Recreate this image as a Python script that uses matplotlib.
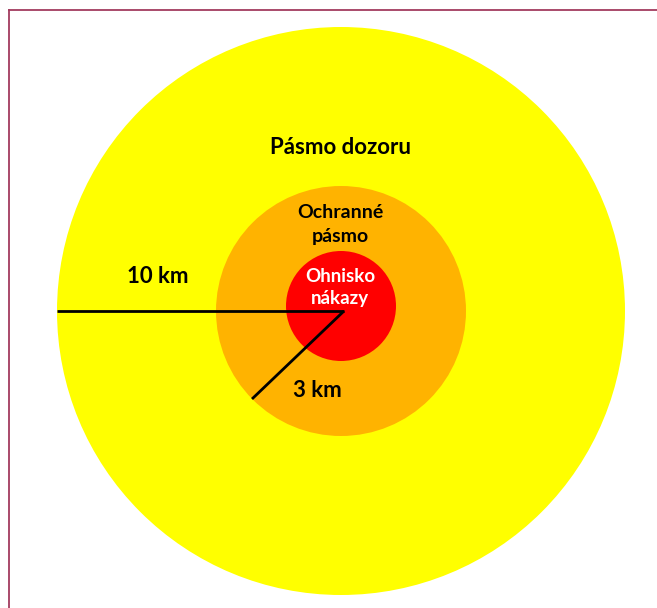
import matplotlib.pyplot as plt
from matplotlib.patches import Circle

plt.rcParams['font.family'] = ['Lato', 'DejaVu Sans']

# zones, drawn from outside in (pixel units of the picture)
zone_names = ["Pásmo dozoru", "Ochranné pásmo", "Ohnisko nákazy"]
zone_radius = [284, 125, 55]
zone_center = [(341, 311), (341, 311), (341, 306)]
zone_colors = ["#FFFF00", "#FFB300", "#FF0000"]

# radius markers: end point and label
radius_labels = ["10 km", "3 km"]
radius_ends = [(57, 311), (252, 399)]
hub = (344, 311)

fig = plt.figure(figsize=(6.57, 6.08), dpi=100)
ax = fig.add_axes([0, 0, 1, 1])
ax.set_xlim(0, 657)
ax.set_ylim(608, 0)
ax.set_aspect('equal')
ax.axis('off')

for c, r, col in zip(zone_center, zone_radius, zone_colors):
    ax.add_patch(Circle(c, r, color=col, lw=0))

for end in radius_ends:
    ax.plot([hub[0], end[0]], [hub[1], end[1]], color='black', lw=2.0,
            solid_capstyle='butt')

# frame lines (top, left)
ax.plot([9, 657], [9.5, 9.5], color='#A33B5F', lw=1.3)
ax.plot([9, 9], [9.5, 608], color='#A33B5F', lw=1.3)

# labels
ax.text(340, 154, "Pásmo dozoru", ha='center', va='baseline',
        fontsize=16, fontweight='bold', color='black')
ax.text(340.5, 218, "Ochranné", ha='center', va='baseline',
        fontsize=14, fontweight='bold', color='black')
ax.text(340.5, 242, "pásmo", ha='center', va='baseline',
        fontsize=14, fontweight='bold', color='black')
ax.text(340, 282, "Ohnisko", ha='center', va='baseline',
        fontsize=13.5, fontweight='bold', color='white')
ax.text(340, 304, "nákazy", ha='center', va='baseline',
        fontsize=13.5, fontweight='bold', color='white')
ax.text(157.5, 283, radius_labels[0], ha='center', va='baseline',
        fontsize=16, fontweight='bold', color='black')
ax.text(317, 397, radius_labels[1], ha='center', va='baseline',
        fontsize=16, fontweight='bold', color='black')

fig.savefig('out.png', dpi=100, facecolor='white')
